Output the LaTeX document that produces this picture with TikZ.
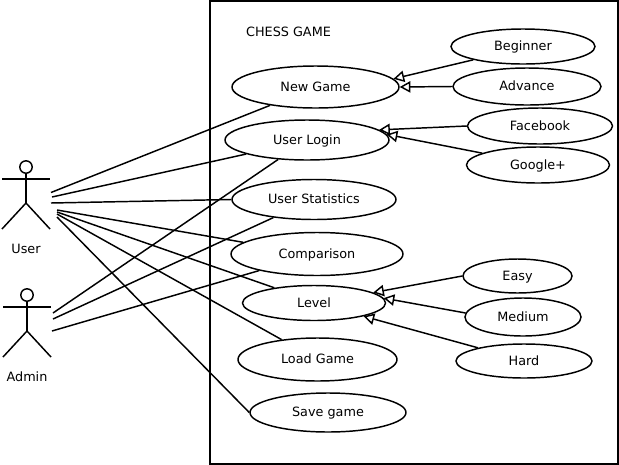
\documentclass[tikz,border=0pt]{standalone}
\usepackage{fontspec}
\setmainfont{DejaVu Sans}
\usetikzlibrary{arrows.meta,shapes.geometric}
\definecolor{ink}{HTML}{000000}
\tikzset{
  x=0.75pt, y=-0.75pt,
  usecase/.style={ellipse, draw=ink, line width=1.1pt, fill=white, inner sep=0pt, text height=8.4pt, text depth=2pt, font=\fontsize{9.6}{11}\selectfont},
  lbl/.style={font=\fontsize{9.6}{11}\selectfont, text=ink, inner sep=0pt},
  flow/.style={draw=ink, line width=1.1pt},
  extend/.style={-{Triangle[open, length=8pt, width=8.5pt, fill=white]}, draw=ink, line width=1.1pt},
  actorline/.style={draw=ink, line width=1.1pt}
}
\newcommand{\usecasenode}[6]{\node[usecase, minimum width=#3*0.75pt, minimum height=#4*0.75pt] (#5) at (#1,#2) {#6};}
\newcommand{\actorfig}[2]{%
  \draw[actorline] (#1,#2) circle (6.2);
  \draw[actorline] (#1,#2+6) -- (#1,#2+36);
  \draw[actorline] (#1-24,#2+12) -- (#1+24,#2+12);
  \draw[actorline] (#1-24,#2+62) -- (#1,#2+36) -- (#1+24,#2+62);
}
\begin{document}
\begin{tikzpicture}
\useasboundingbox (0,0) rectangle (619,465);
\node[draw=ink, line width=1.3pt, minimum width=408*0.75pt, minimum height=463*0.75pt, inner sep=0pt] (frame) at (414,232.5) {};
\node[lbl] (title) at (288.5,32) {CHESS GAME};
% actors
\actorfig{26}{167}
\actorfig{27}{295}
\node[lbl] (user) at (26,249) {User};
\node[lbl] (admin) at (27,377) {Admin};
\coordinate (userA) at (51,192.5);
\coordinate (userB) at (52,197);
\coordinate (userC) at (51,203);
\coordinate (userD) at (57,210);
\coordinate (userE) at (57,212);
\coordinate (userF) at (57,214);
\coordinate (userG) at (57,217);
\coordinate (adminA) at (53,313);
\coordinate (adminB) at (53,319);
\coordinate (adminC) at (52,331);
% use cases
\usecasenode{315.5}{87}{167}{42}{newgame}{New Game}
\usecasenode{307}{140}{164}{40}{login}{User Login}
\usecasenode{314}{199.5}{164}{40}{stats}{User Statistics}
\usecasenode{317}{254}{172}{43}{comparison}{Comparison}
\usecasenode{314}{303}{143}{35}{level}{Level}
\usecasenode{317.5}{359.5}{159}{43}{loadgame}{Load Game}
\usecasenode{328}{412.5}{156}{39}{savegame}{Save game}
\usecasenode{523}{46.5}{144}{35}{beginner}{Beginner}
\usecasenode{527}{86.5}{148}{37}{advance}{Advance}
\usecasenode{540}{126}{145}{36}{facebook}{Facebook}
\usecasenode{538}{165}{143}{36}{google}{Google+}
\usecasenode{517.5}{276}{109}{34}{easy}{Easy}
\usecasenode{523}{317}{116}{38}{medium}{Medium}
\usecasenode{524}{361}{136}{34}{hard}{Hard}
% actor links
\draw[flow] (userA) -- (newgame.202);
\draw[flow] (userB) -- (login.193);
\draw[flow] (userC) -- (stats.west);
\draw[flow] (userD) -- (comparison.171);
\draw[flow] (userE) -- (level.159);
\draw[flow] (userF) -- (loadgame.151);
\draw[flow] (userG) -- (savegame.west);
\draw[flow] (adminA) -- (login.214);
\draw[flow] (adminB) -- (stats.204);
\draw[flow] (adminC) -- (comparison.196);
% extend links
\draw[extend] (beginner.195) -- (newgame.6);
\draw[extend] (advance.west) -- (newgame.east);
\draw[extend] (facebook.west) -- (login.8);
\draw[extend] (google.168) -- (login.4);
\draw[extend] (easy.west) -- (level.10);
\draw[extend] (medium.176) -- (level.4);
\draw[extend] (hard.164) -- (level.-15);
\end{tikzpicture}
\end{document}
